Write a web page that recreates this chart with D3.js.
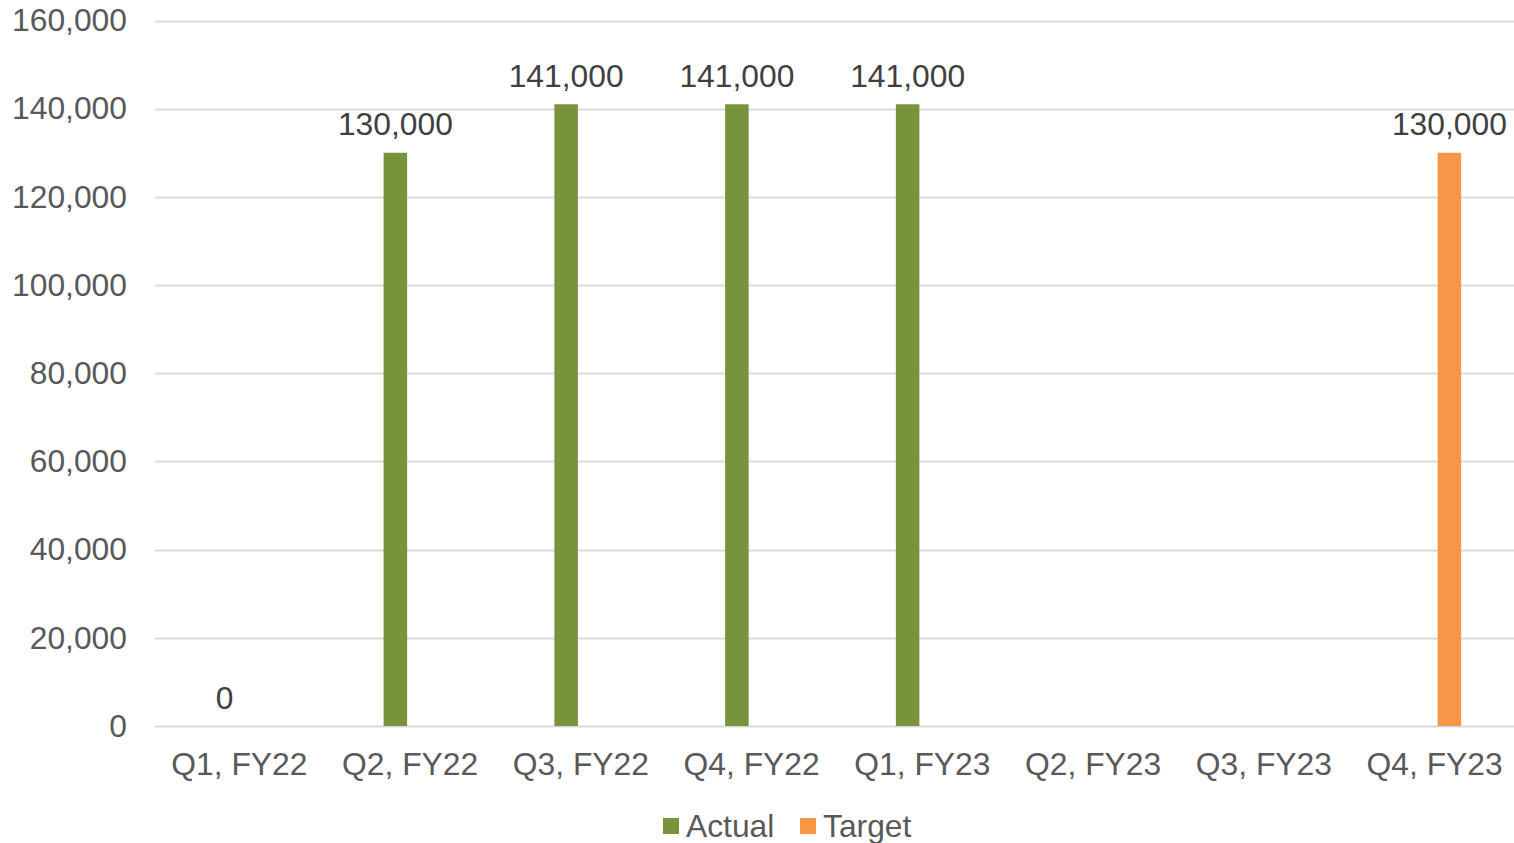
<!DOCTYPE html>
<html><head><meta charset="utf-8">
<script src="https://cdn.jsdelivr.net/npm/d3@7"></script>
<style>
html,body{margin:0;padding:0;background:#fff;}
svg{display:block;font-family:"Liberation Sans",Arial,sans-serif;}
</style></head>
<body>
<svg id="chart" width="1514" height="843"></svg>
<script>
const categories = ["Q1, FY22","Q2, FY22","Q3, FY22","Q4, FY22","Q1, FY23","Q2, FY23","Q3, FY23","Q4, FY23"];
const actual = [0,130000,141000,141000,141000,null,null,null];
const target = [null,null,null,null,null,null,null,130000];
const seriesNames = ["Actual","Target"];
const seriesColors = ["#77933c","#f79646"];
const yTicks = [0,20000,40000,60000,80000,100000,120000,140000,160000];

(function(){
const svg = d3.select("#chart");
const mLeft = 154, mRight = 1520, mTop = 20.5, mBottom = 726;
const x = d3.scaleBand().domain(categories).range([mLeft, mRight]).paddingInner(0).paddingOuter(0);
const y = d3.scaleLinear().domain([0,160000]).range([mBottom, mTop]);
const fmt = d3.format(",");
const fs = 31.8;

// gridlines
svg.append("g").selectAll("line").data(yTicks).join("line")
  .attr("x1", 155).attr("x2", 1514)
  .attr("y1", d => Math.round(y(d)) + 0.5).attr("y2", d => Math.round(y(d)) + 0.5)
  .attr("stroke", "#d9d9d9").attr("stroke-width", 2);

// y axis labels
const yAxis = d3.axisLeft(y).tickValues(yTicks).tickFormat(fmt).tickSize(0).tickPadding(0);
const yg = svg.append("g").attr("transform", `translate(127,0)`).call(yAxis);
yg.select(".domain").remove();
yg.attr("font-family", null).attr("font-size", null);
yg.selectAll("text").attr("fill", "#595959").style("font-size", fs + "px");

// x axis labels
const xAxis = d3.axisBottom(x).tickSize(0).tickPadding(0);
const xg = svg.append("g").attr("transform", `translate(0,${mBottom})`).call(xAxis);
xg.select(".domain").remove();
xg.attr("font-family", null).attr("font-size", null);
xg.selectAll("text").attr("fill", "#595959").style("font-size", fs + "px")
  .attr("dy", null).attr("y", 49);

// bars
const barW = 23.5, gap = 3;
const data = [];
categories.forEach((c, i) => {
  if (actual[i] !== null) data.push({c, v: actual[i], s: 0});
  if (target[i] !== null) data.push({c, v: target[i], s: 1});
});
const cx = d => x(d.c) + x.bandwidth() / 2 + (d.s === 0 ? -(gap + barW / 2) : (gap + barW / 2));
svg.append("g").selectAll("rect").data(data).join("rect")
  .attr("x", d => cx(d) - barW / 2).attr("width", barW)
  .attr("y", d => y(d.v)).attr("height", d => y(0) - y(d.v))
  .attr("fill", d => seriesColors[d.s]);

// data labels
svg.append("g").selectAll("text").data(data).join("text")
  .attr("x", d => cx(d)).attr("y", d => y(d.v) - 17.5)
  .attr("text-anchor", "middle").attr("fill", "#404040").style("font-size", fs + "px")
  .text(d => fmt(d.v));

// legend
const lg = svg.append("g");
const legendItems = [{x: 663, tx: 686}, {x: 800, tx: 823}];
seriesNames.forEach((n, i) => {
  lg.append("rect").attr("x", legendItems[i].x).attr("y", 818).attr("width", 16).attr("height", 16).attr("fill", seriesColors[i]);
  lg.append("text").attr("x", legendItems[i].tx).attr("y", 837).attr("fill", "#595959").style("font-size", fs + "px").text(n);
});
})();
</script>
</body></html>
